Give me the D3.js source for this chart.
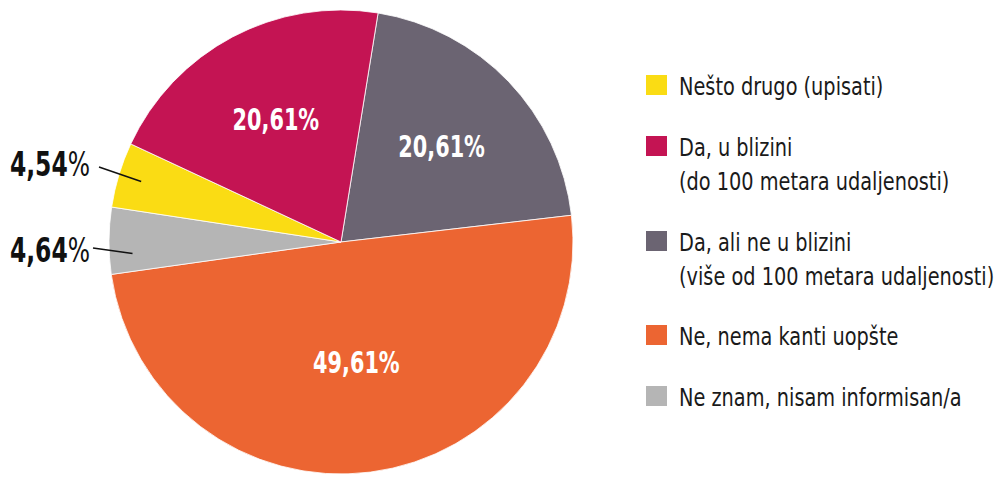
<!DOCTYPE html>
<html>
<head>
<meta charset="utf-8">
<script src="https://cdn.jsdelivr.net/npm/d3@7/dist/d3.min.js"></script>
<style>
  html, body { margin: 0; padding: 0; background: #fff; }
  svg text { font-family: "DejaVu Sans Condensed", "DejaVu Sans", sans-serif; font-stretch: condensed; }
</style>
</head>
<body>
<svg id="chart" width="997" height="477"></svg>
<script>
// slice order as drawn, clockwise from the top
const categories = [
  "Da, ali ne u blizini (više od 100 metara udaljenosti)",
  "Ne, nema kanti uopšte",
  "Ne znam, nisam informisan/a",
  "Nešto drugo (upisati)",
  "Da, u blizini (do 100 metara udaljenosti)"
];
const values = [20.61, 49.61, 4.64, 4.54, 20.61];
const colors = ["#6b6472", "#ec6532", "#b5b5b5", "#fadc14", "#c41453"];

// legend order + line breaks
const legendItems = [
  ["Nešto drugo (upisati)"],
  ["Da, u blizini", "(do 100 metara udaljenosti)"],
  ["Da, ali ne u blizini", "(više od 100 metara udaljenosti)"],
  ["Ne, nema kanti uopšte"],
  ["Ne znam, nisam informisan/a"]
];
const legendColors = ["#fadc14", "#c41453", "#6b6472", "#ec6532", "#b5b5b5"];

const num = v => d3.format(".2f")(v).replace(".", ",");

const svg = d3.select("#chart");
const cx = 341, cy = 242, r = 232;
const start = 9.2 * Math.PI / 180;

// squeezed text, the original uses a narrow DIN-like face
function label(parent, x, y, sx) {
  return parent.append("text")
    .attr("transform", `translate(${x},${y}) scale(${sx},1)`);
}

const pie = d3.pie().sort(null).value(d => d)
  .startAngle(start).endAngle(start + 2 * Math.PI);
const arcs = pie(values);
const arc = d3.arc().innerRadius(0).outerRadius(r);

const g = svg.append("g").attr("transform", `translate(${cx},${cy})`);
g.selectAll("path")
  .data(arcs)
  .enter().append("path")
  .attr("d", arc)
  .attr("fill", (d, i) => colors[i])
  .attr("stroke", "#fff")
  .attr("stroke-width", 0.8);

// labels inside the big slices
const labelArc = d3.arc().innerRadius(r * 0.6).outerRadius(r * 0.6);
const orangeArc = d3.arc().innerRadius(r * 0.52).outerRadius(r * 0.52);
arcs.forEach((d, i) => {
  if (values[i] > 10) {
    const c = (i === 1 ? orangeArc : labelArc).centroid(d);
    label(g, c[0], c[1] + 11, 0.77)
      .attr("text-anchor", "middle")
      .attr("fill", "#fff")
      .attr("font-size", 30)
      .attr("font-weight", "bold")
      .text(num(values[i]) + "%");
  }
});

// small slices: labels outside with leader lines
const outside = [
  { i: 3, tx: 90, ty: 176, lx: 99, ly: 167, nudge: 0 },
  { i: 2, tx: 90, ty: 262, lx: 93, ly: 248, nudge: -3.5 }
];
outside.forEach(o => {
  const d = arcs[o.i];
  const a = (d.startAngle + d.endAngle) / 2 + o.nudge * Math.PI / 180;
  const rr = r * 0.9;
  const ex = cx + rr * Math.sin(a), ey = cy - rr * Math.cos(a);
  svg.append("line")
    .attr("x1", o.lx).attr("y1", o.ly)
    .attr("x2", ex).attr("y2", ey)
    .attr("stroke", "#111").attr("stroke-width", 1.5);
  const t = label(svg, o.tx, o.ty, 0.79)
    .attr("text-anchor", "end")
    .attr("fill", "#111")
    .attr("font-size", 33);
  t.append("tspan").attr("font-weight", "bold").text(num(values[o.i]));
  t.append("tspan").attr("font-weight", "normal").text("%");
});

// legend
const legendTop = [75, 136, 231, 325, 386];
const lg = svg.append("g");
legendItems.forEach((lines, k) => {
  const y = legendTop[k];
  lg.append("rect")
    .attr("x", 646).attr("y", y)
    .attr("width", 21).attr("height", 20)
    .attr("fill", legendColors[k]);
  lines.forEach((t, j) => {
    label(lg, 679, y + 20 + j * 34, 0.895)
      .attr("fill", "#1a1a1a")
      .attr("font-size", 24)
      .text(t);
  });
});
</script>
</body>
</html>
